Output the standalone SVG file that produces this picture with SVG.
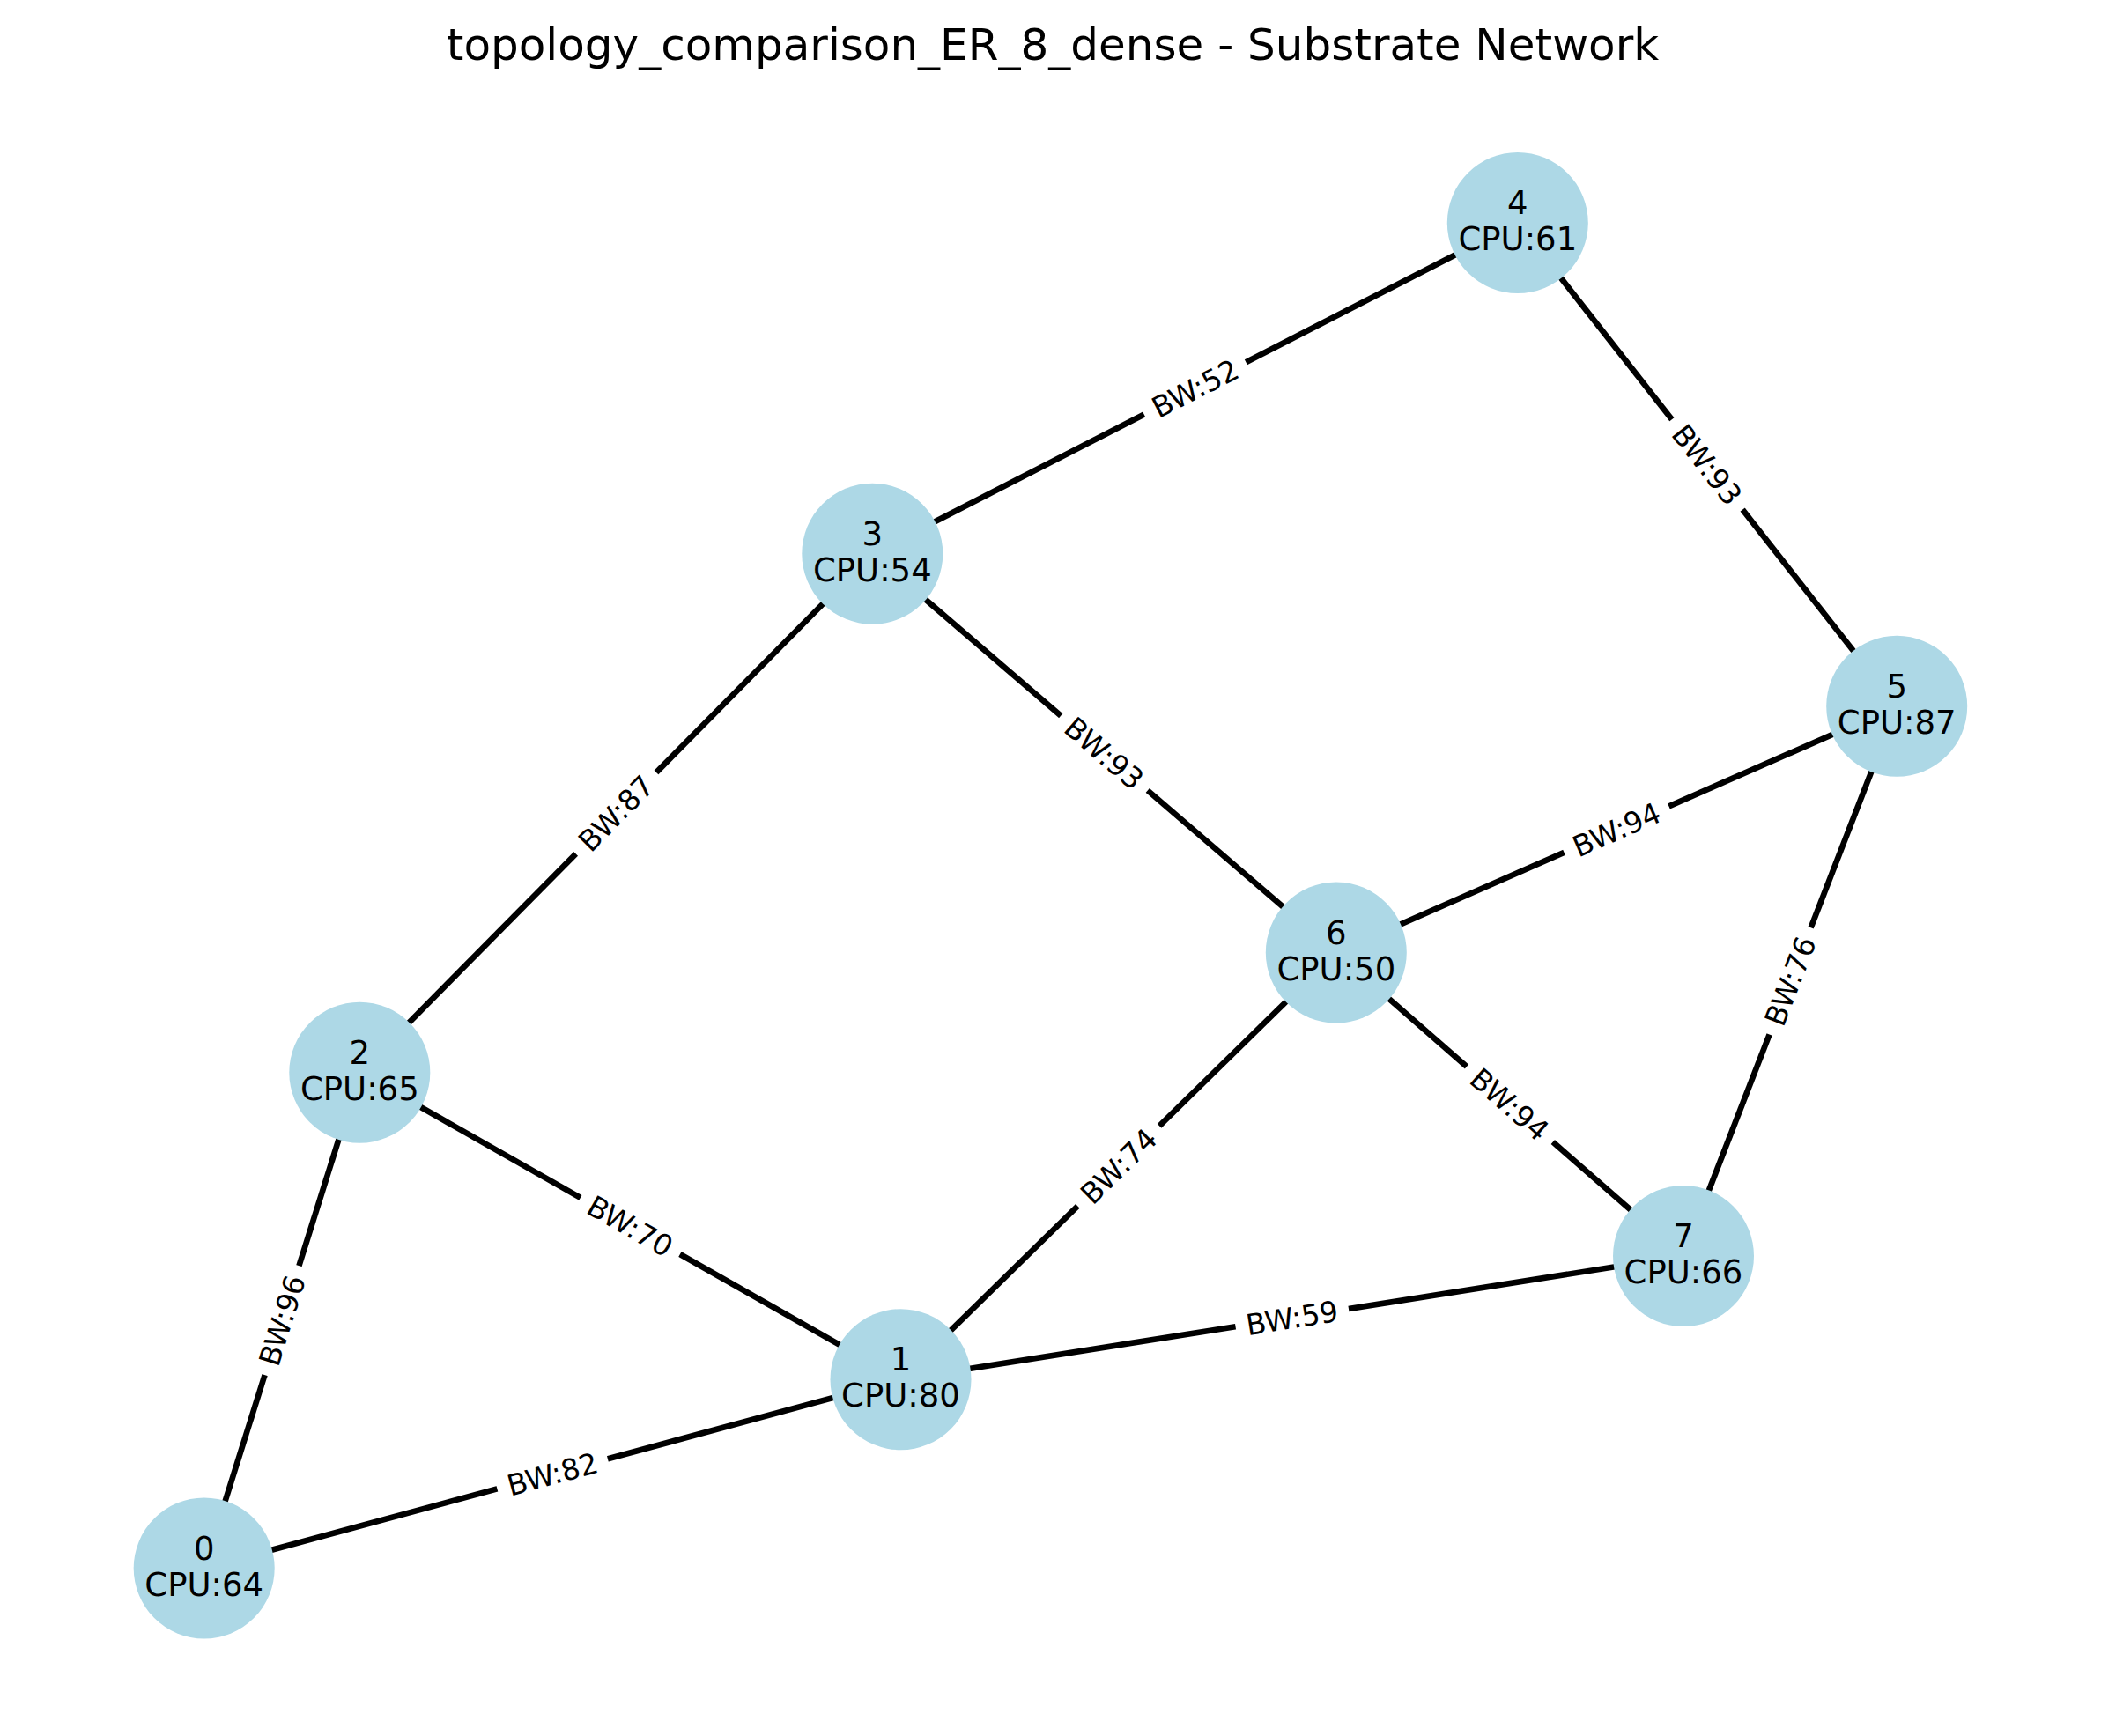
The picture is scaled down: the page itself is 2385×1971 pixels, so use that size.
<svg xmlns="http://www.w3.org/2000/svg" width="2385" height="1971" viewBox="0 0 2385 1971">
<style>
.edge{stroke:#000;stroke-width:6.6;stroke-linecap:butt;fill:none}
.lblbox{fill:#fff;stroke:none}
.lbl{font-family:"DejaVu Sans","Liberation Sans",sans-serif;font-size:33px;fill:#000;text-anchor:middle}
.node{fill:#ADD8E6;stroke:none}
.ntext{font-family:"DejaVu Sans","Liberation Sans",sans-serif;font-size:37px;fill:#000;text-anchor:middle}
.title{font-family:"DejaVu Sans","Liberation Sans",sans-serif;font-size:50px;fill:#000;text-anchor:middle}
</style>
<defs>
<rect id="lb" class="lblbox" x="-65" y="-26" width="130" height="52" rx="12"/>
</defs>
<rect x="0" y="0" width="2385" height="1971" fill="#fff"/>
<text class="title" x="1195" y="68">topology_comparison_ER_8_dense - Substrate Network</text>
<g id="connectors">
<line class="edge" x1="990.3" y1="628.7" x2="1722.8" y2="253"/>
<line class="edge" x1="1722.8" y1="253" x2="2153.2" y2="801.8"/>
<line class="edge" x1="990.3" y1="628.7" x2="408.3" y2="1217.7"/>
<line class="edge" x1="990.3" y1="628.7" x2="1516.8" y2="1081.5"/>
<line class="edge" x1="2153.2" y1="801.8" x2="1516.8" y2="1081.5"/>
<line class="edge" x1="2153.2" y1="801.8" x2="1911" y2="1426"/>
<line class="edge" x1="1516.8" y1="1081.5" x2="1911" y2="1426"/>
<line class="edge" x1="1516.8" y1="1081.5" x2="1022.5" y2="1566.2"/>
<line class="edge" x1="408.3" y1="1217.7" x2="1022.5" y2="1566.2"/>
<line class="edge" x1="408.3" y1="1217.7" x2="231.7" y2="1780.5"/>
<line class="edge" x1="1022.5" y1="1566.2" x2="1911" y2="1426"/>
<line class="edge" x1="1022.5" y1="1566.2" x2="231.7" y2="1780.5"/>
<g transform="translate(1356.55,440.85) rotate(-27.15)"><use href="#lb"/><text class="lbl" y="12">BW:52</text></g>
<g transform="translate(1938,527.4) rotate(51.89)"><use href="#lb"/><text class="lbl" y="12">BW:93</text></g>
<g transform="translate(699.3,923.2) rotate(-45.34)"><use href="#lb"/><text class="lbl" y="12">BW:87</text></g>
<g transform="translate(1253.55,855.1) rotate(40.70)"><use href="#lb"/><text class="lbl" y="12">BW:93</text></g>
<g transform="translate(1835,941.65) rotate(-23.73)"><use href="#lb"/><text class="lbl" y="12">BW:94</text></g>
<g transform="translate(2032.1,1113.9) rotate(-68.80)"><use href="#lb"/><text class="lbl" y="12">BW:76</text></g>
<g transform="translate(1713.9,1253.75) rotate(41.15)"><use href="#lb"/><text class="lbl" y="12">BW:94</text></g>
<g transform="translate(1269.65,1323.85) rotate(-44.44)"><use href="#lb"/><text class="lbl" y="12">BW:74</text></g>
<g transform="translate(715.4,1391.95) rotate(29.57)"><use href="#lb"/><text class="lbl" y="12">BW:70</text></g>
<g transform="translate(320,1499.1) rotate(-72.58)"><use href="#lb"/><text class="lbl" y="12">BW:96</text></g>
<g transform="translate(1466.75,1496.1) rotate(-8.97)"><use href="#lb"/><text class="lbl" y="12">BW:59</text></g>
<g transform="translate(627.1,1673.35) rotate(-15.16)"><use href="#lb"/><text class="lbl" y="12">BW:82</text></g>
</g>
<g id="node0"><circle class="node" cx="231.7" cy="1780.5" r="80"/><text class="ntext" x="231.7" y="1770.5">0</text><text class="ntext" x="231.7" y="1811.5">CPU:64</text></g>
<g id="node1"><circle class="node" cx="1022.5" cy="1566.2" r="80"/><text class="ntext" x="1022.5" y="1556.2">1</text><text class="ntext" x="1022.5" y="1597.2">CPU:80</text></g>
<g id="node2"><circle class="node" cx="408.3" cy="1217.7" r="80"/><text class="ntext" x="408.3" y="1207.7">2</text><text class="ntext" x="408.3" y="1248.7">CPU:65</text></g>
<g id="node3"><circle class="node" cx="990.3" cy="628.7" r="80"/><text class="ntext" x="990.3" y="618.7">3</text><text class="ntext" x="990.3" y="659.7">CPU:54</text></g>
<g id="node4"><circle class="node" cx="1722.8" cy="253" r="80"/><text class="ntext" x="1722.8" y="243">4</text><text class="ntext" x="1722.8" y="284">CPU:61</text></g>
<g id="node5"><circle class="node" cx="2153.2" cy="801.8" r="80"/><text class="ntext" x="2153.2" y="791.8">5</text><text class="ntext" x="2153.2" y="832.8">CPU:87</text></g>
<g id="node6"><circle class="node" cx="1516.8" cy="1081.5" r="80"/><text class="ntext" x="1516.8" y="1071.5">6</text><text class="ntext" x="1516.8" y="1112.5">CPU:50</text></g>
<g id="node7"><circle class="node" cx="1911" cy="1426" r="80"/><text class="ntext" x="1911" y="1416">7</text><text class="ntext" x="1911" y="1457">CPU:66</text></g>
</svg>
